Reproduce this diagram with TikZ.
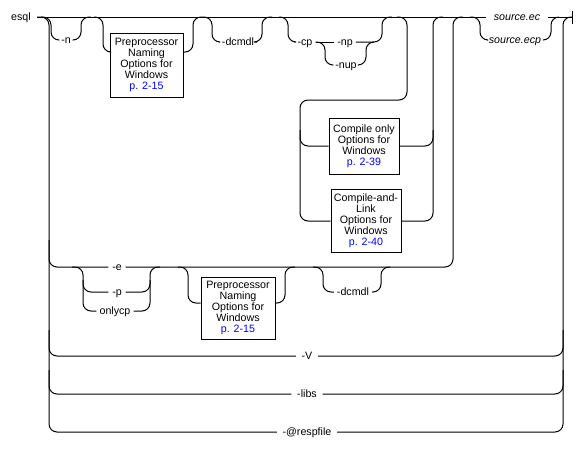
\documentclass[tikz,border=0pt]{standalone}
\usepackage{fontspec}
\setmainfont{Liberation Sans}
\begin{document}
\begin{tikzpicture}[x=0.75pt,y=-0.75pt, line width=0.75pt,
  rail/.style={draw, rounded corners=6pt},
  lbl/.style={inner xsep=2pt, inner ysep=0pt, text height=6pt, text depth=1.5pt, font=\fontsize{8}{8}\selectfont},
  tight/.style={inner xsep=1pt},
  optbox/.style={draw, align=center, inner sep=0pt, font=\fontsize{8}{8.2}\selectfont},
  ref/.style={text=blue}]
\useasboundingbox (0,0) rectangle (579,457);
% labels
\node[lbl] (esql) at (21,17) {esql};
\node[lbl,tight] (n) at (66,40) {-n};
\node[lbl] (dc1) at (238,42) {-dcmdl};
\node[lbl] (cp) at (305,42) {-cp};
\node[lbl] (np) at (345,42) {-np};
\node[lbl,tight] (nup) at (346,65) {-nup};
\node[lbl,inner xsep=5.5pt] (ec) at (517,17) {\itshape source.ec};
\node[lbl,tight] (ecp) at (515,40) {\itshape source.ecp};
\node[lbl,inner xsep=2.5pt] (e) at (117,267) {-e};
\node[lbl,inner xsep=2.5pt] (p) at (117,292) {-p};
\node[lbl] (onlycp) at (115,311) {onlycp};
\node[lbl] (dc2) at (353,292) {-dcmdl};
\node[lbl,inner xsep=4pt] (V) at (307,356) {-V};
\node[lbl,inner xsep=4pt] (libs) at (307,394) {-libs};
\node[lbl,inner xsep=4pt] (resp) at (307,432) {-@respfile};
% boxes
\node[optbox, minimum width=54.75pt, minimum height=48pt] (box1) at (146.5,65)
  {Preprocessor\\Naming\\Options for\\Windows\\{\color{blue}p. 2-15}};
\node[optbox, minimum width=52.5pt, minimum height=42pt] (box2) at (364,146)
  {Compile only\\Options for\\Windows\\{\color{blue}p. 2-39}};
\node[optbox, minimum width=52.5pt, minimum height=47.25pt] (box3) at (366,220.5)
  {Compile-and-\\Link\\Options for\\Windows\\{\color{blue}p. 2-40}};
\node[optbox, minimum width=55.5pt, minimum height=46.5pt] (box4) at (238,308)
  {Preprocessor\\Naming\\Options for\\Windows\\{\color{blue}p. 2-15}};
\coordinate (start) at (37,17);
\coordinate (finish) at (572,17);
% main line and end bar
\draw (start) -- (ec.west);
\draw (ec.east) -- (finish);
\draw (572,11) -- (572,24);
% big left and right verticals
\path[rail] (start) -- (49,17) -- (49,432) -- (resp.west);
\path[rail] (49,240) -- (49,267) -- (e.west);
\path[rail] (49,330) -- (49,356) -- (V.west);
\path[rail] (49,370) -- (49,394) -- (libs.west);
\path[rail] (resp.east) -- (563,432) -- (563,17) -- (finish);
\path[rail] (V.east) -- (563,356) -- (563,330);
\path[rail] (libs.east) -- (563,394) -- (563,370);
% -n
\path[rail] (41,17) -- (51,17) -- (51,40) -- (n.west);
\path[rail] (n.east) -- (81,40) -- (81,17) -- (91,17);
% box1
\path[rail] (94,17) -- (103,17) -- (103,52) -- (box1.west |- 0,52);
\path[rail] (box1.east |- 0,52) -- (193,52) -- (193,17) -- (203,17);
% -dcmdl
\path[rail] (203,17) -- (212,17) -- (212,42) -- (dc1.west);
\path[rail] (dc1.east) -- (262,42) -- (262,17) -- (272,17);
% -cp -np -nup
\path[rail] (279,17) -- (288,17) -- (288,42) -- (cp.west);
\draw (cp.east) -- (np.west);
\path[rail] (cp.east) -- (325,42) -- (325,65) -- (nup.west);
\path[rail] (nup.east) -- (366,65) -- (366,42) -- (374,42);
\path[rail] (np.east) -- (382,42) -- (382,17) -- (392,17);
% compile loop
\path[rail] (397,17) -- (407,17) -- (407,100) -- (300,100) -- (300,221) -- (box3.west |- 0,221);
\path[rail] (300,130) -- (300,146) -- (box2.west |- 0,146);
\path[rail] (box2.east |- 0,146) -- (433,146) -- (433,17) -- (443,17);
\path[rail] (box3.east |- 0,221) -- (433,221) -- (433,130);
% source
\path[rail] (470,17) -- (480,17) -- (480,40) -- (ecp.west);
\path[rail] (ecp.east) -- (551,40) -- (551,17) -- (559,17);
% -e row
\path[rail] (e.east) -- (453,267) -- (453,17) -- (463,17);
\path[rail] (72,267) -- (83,267) -- (83,311) -- (onlycp.west);
\path[rail] (83,280) -- (83,292) -- (p.west);
\path[rail] (onlycp.east) -- (150,311) -- (150,267) -- (160,267);
\path[rail] (p.east) -- (150,292) -- (150,280);
% box4
\path[rail] (178,267) -- (188,267) -- (188,303) -- (box4.west |- 0,303);
\path[rail] (box4.east |- 0,303) -- (285,303) -- (285,267) -- (295,267);
% -dcmdl 2
\path[rail] (313,267) -- (323,267) -- (323,292) -- (dc2.west);
\path[rail] (dc2.east) -- (381,292) -- (381,267) -- (390,267);
\end{tikzpicture}
\end{document}
